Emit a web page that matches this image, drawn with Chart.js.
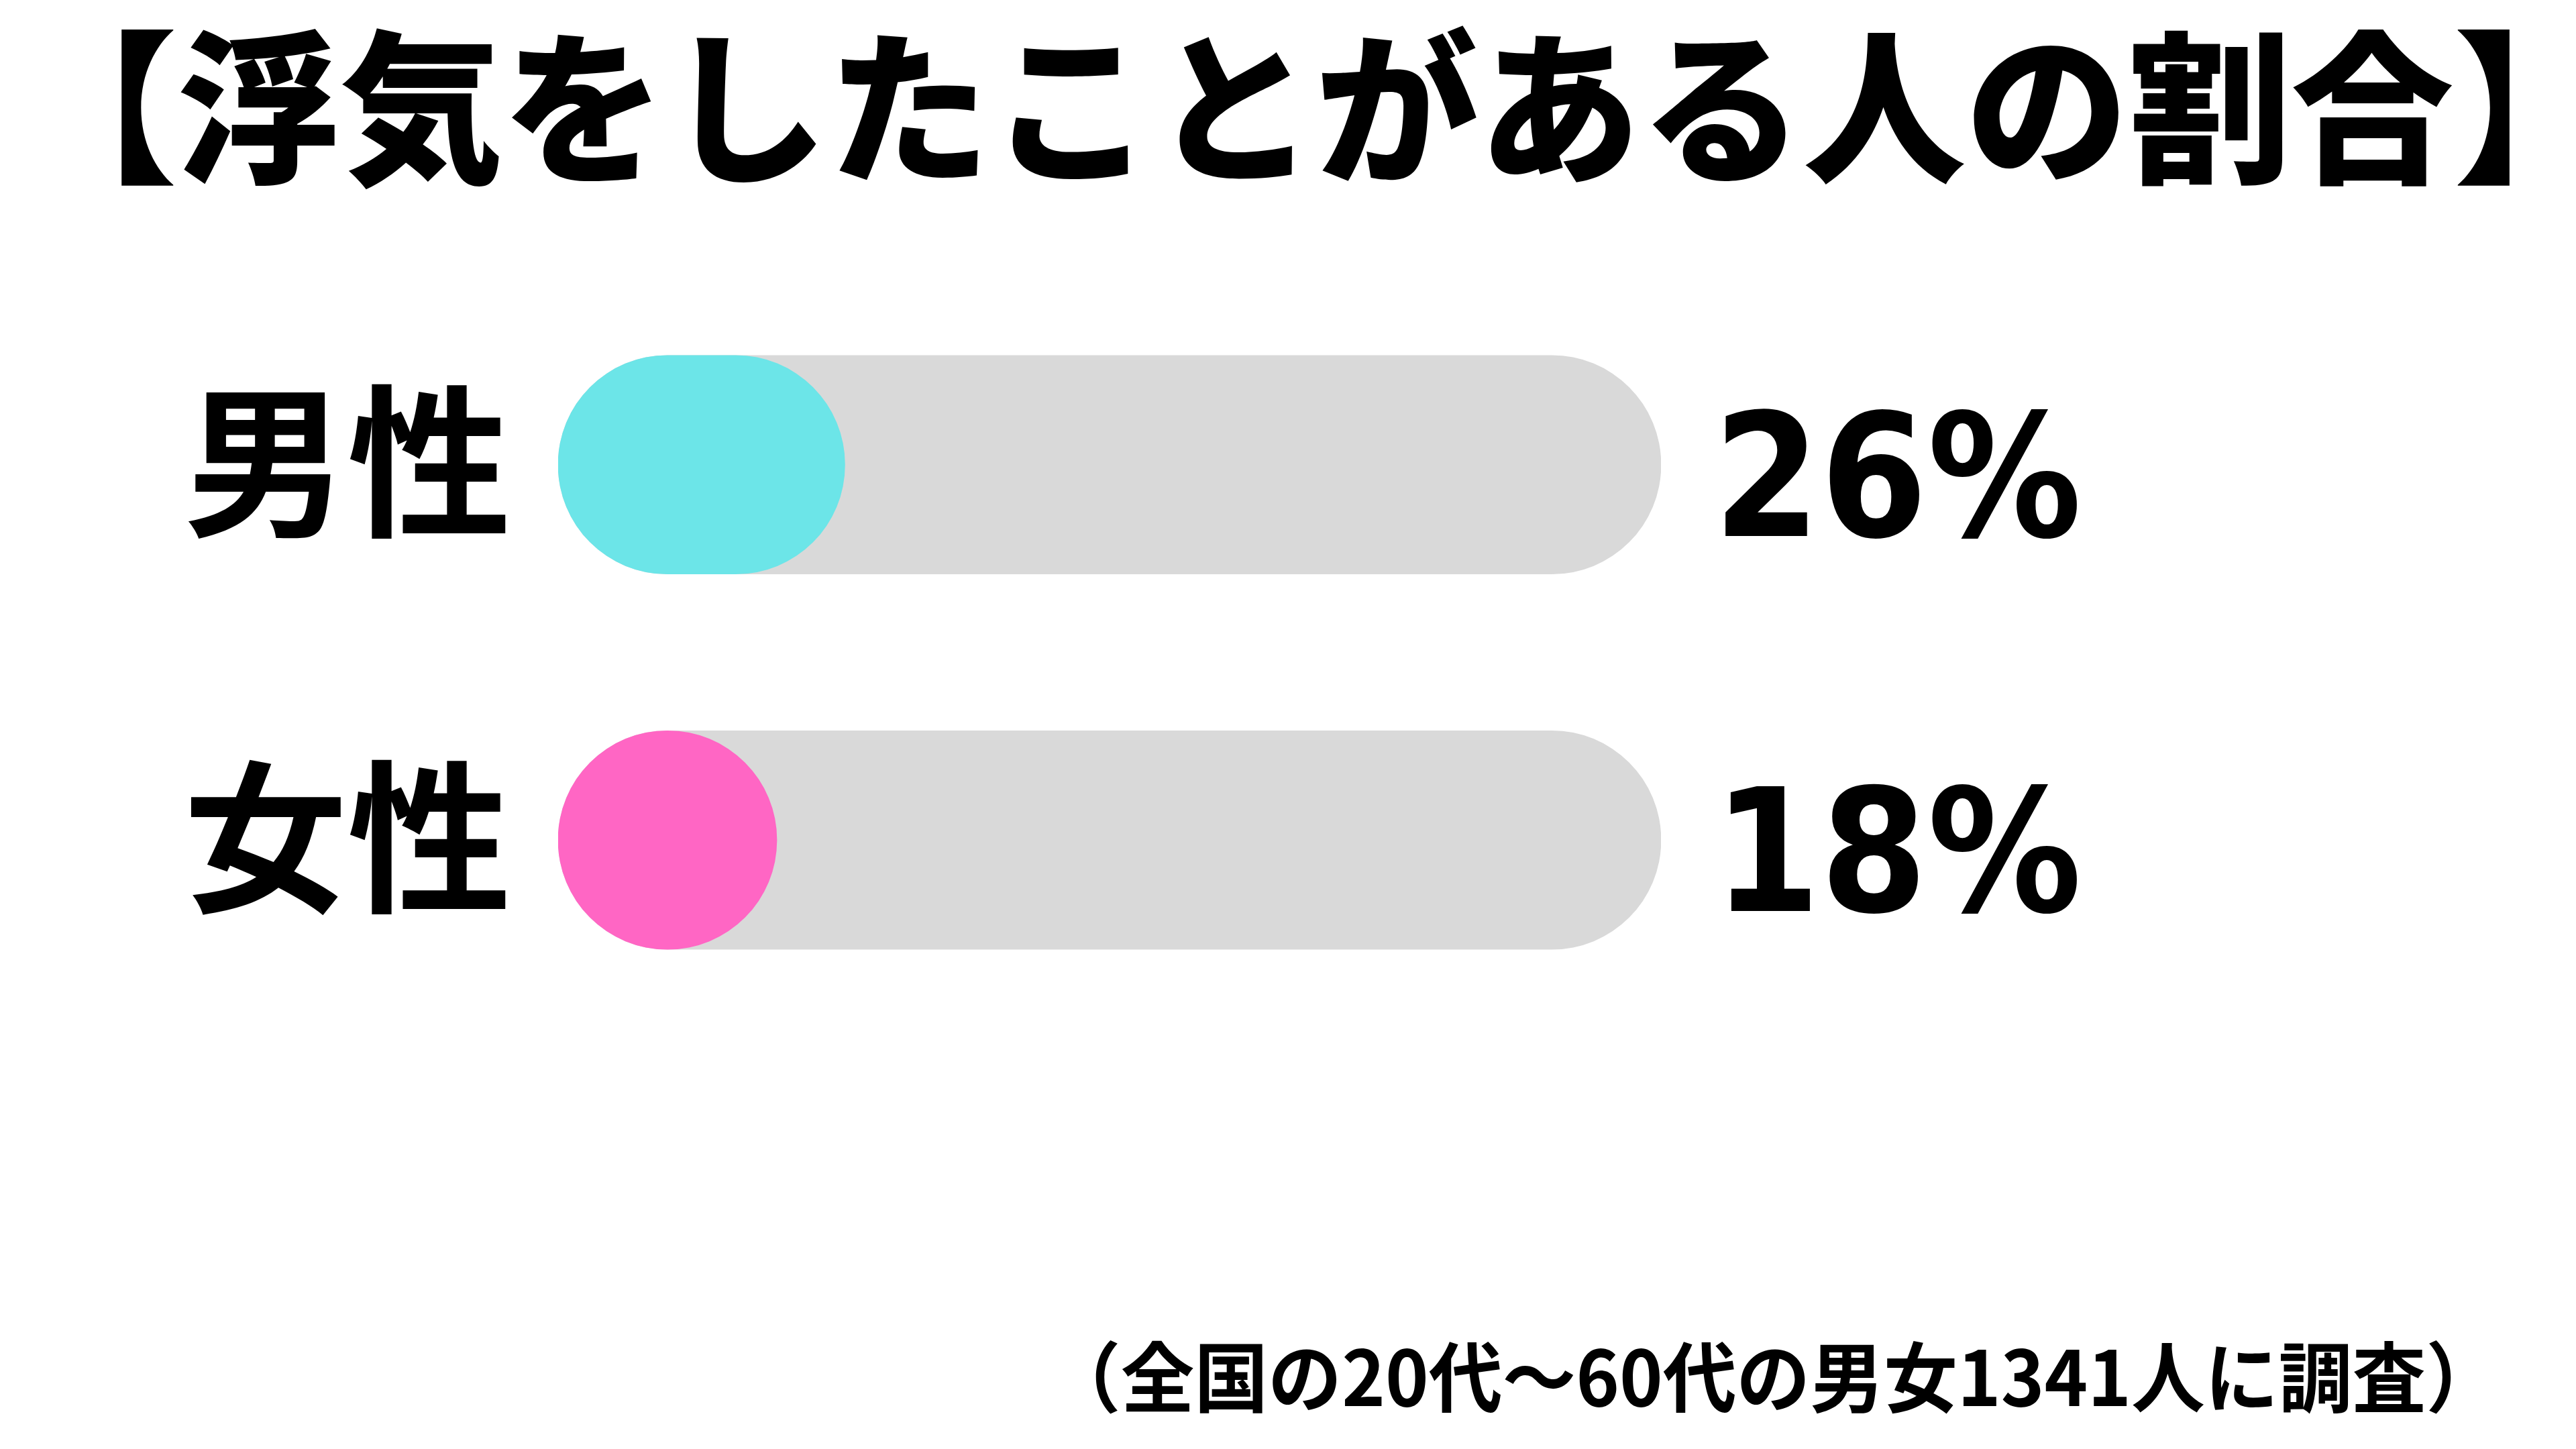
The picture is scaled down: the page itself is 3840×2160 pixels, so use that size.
<!DOCTYPE html>
<html lang="ja">
<head>
<meta charset="utf-8">
<title>浮気をしたことがある人の割合</title>
<script src="https://cdn.jsdelivr.net/npm/chart.js@4.4.1/dist/chart.umd.min.js"></script>
<style>
    html, body { margin: 0; padding: 0; background: #ffffff; }
    #chartBox { width: 3840px; height: 2160px; }
</style>
</head>
<body>
<div id="chartBox"><canvas id="cheatChart" width="3840" height="2160"></canvas></div>
<script>
// data
const titleText = '【浮気をしたことがある人の割合】';
const footnoteText = '（全国の20代〜60代の男女1341人に調査）';
const genders = ['男性', '女性'];
const cheatedRates = [26, 18];
const fullRates = [100, 100];
const barColors = ['#6CE5E8', '#FF66C4'];

const rateLabels = cheatedRates.map(v => v + '%');

// footnote in the lower right corner
const footnotePlugin = {
    id: 'footnote',
    afterDraw(chart) {
        const ctx = chart.ctx;
        ctx.save();
        ctx.font = 'bold 114px "Noto Sans CJK JP"';
        ctx.fillStyle = '#000000';
        ctx.textAlign = 'right';
        ctx.textBaseline = 'middle';
        ctx.fillText(footnoteText, chart.width - 114, 2053, 2165);
        ctx.restore();
    }
};

new Chart(document.getElementById('cheatChart'), {
    type: 'bar',
    data: {
        labels: genders,
        datasets: [
            {
                label: '浮気をしたことがある',
                data: cheatedRates,
                backgroundColor: barColors,
                grouped: false,
                barThickness: 326,
                minBarLength: 326,
                borderRadius: 200,
                borderSkipped: false
            },
            {
                label: '全体',
                data: fullRates,
                backgroundColor: '#D9D9D9',
                grouped: false,
                barThickness: 326,
                borderRadius: 200,
                borderSkipped: false
            }
        ]
    },
    options: {
        indexAxis: 'y',
        responsive: false,
        devicePixelRatio: 1,
        animation: false,
        events: [],
        // title box is a little wider than the canvas on the right, like the original
        layout: { padding: { left: 22, right: -60, top: 0, bottom: 628 } },
        plugins: {
            legend: { display: false },
            tooltip: { enabled: false },
            title: {
                display: true,
                text: titleText,
                color: '#000000',
                font: { family: '"Noto Sans CJK JP"', size: 245, weight: '900', lineHeight: 1.2 },
                padding: { top: 14, bottom: 105 }
            }
        },
        scales: {
            x: {
                display: false,
                min: 0,
                max: 100
            },
            y: {
                position: 'left',
                grid: { display: false },
                border: { display: false },
                ticks: {
                    color: '#000000',
                    padding: 62,
                    labelOffset: -4,
                    font: { family: '"Noto Sans CJK JP"', size: 244, weight: 'bold' }
                },
                afterFit: scale => { scale.width = 810; }
            },
            yRate: {
                type: 'category',
                position: 'right',
                labels: rateLabels,
                offset: true,
                grid: { display: false },
                border: { display: false },
                ticks: {
                    color: '#000000',
                    padding: 70,
                    labelOffset: 40,
                    font: { family: '"DejaVu Sans Condensed"', size: 255, weight: 'bold' }
                },
                afterFit: scale => { scale.width = 1424; }
            }
        }
    },
    plugins: [footnotePlugin]
});
</script>
</body>
</html>
